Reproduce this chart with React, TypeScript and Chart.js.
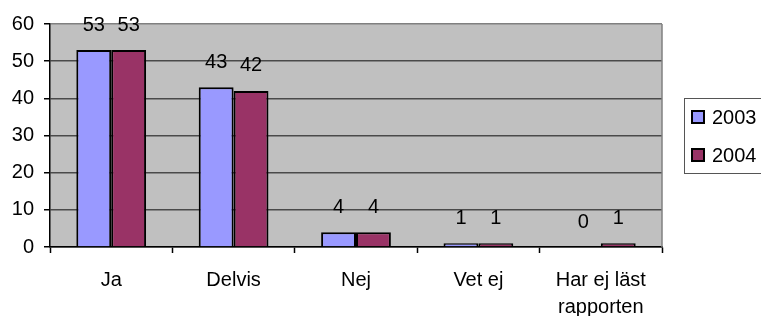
import React, { useEffect, useRef } from "react";
import { Chart, registerables } from "chart.js";

Chart.register(...registerables);

const categories: (string | string[])[] = ["Ja", "Delvis", "Nej", "Vet ej", ["Har ej läst", "rapporten"]];
const seriesNames = ["2003", "2004"];
const values2003 = [53, 43, 4, 1, 0];
const values2004 = [53, 42, 4, 1, 1];
const seriesColors = ["#9999FF", "#993366"];
const yMin = 0;
const yMax = 60;
const yStep = 10;

const FONT = '"Liberation Sans", Arial, sans-serif';

const bgPlugin = {
  id: "plotBg",
  beforeDraw(chart: any) {
    const { ctx, chartArea } = chart;
    ctx.save();
    ctx.fillStyle = "#C0C0C0";
    ctx.fillRect(chartArea.left, chartArea.top, chartArea.right - chartArea.left, chartArea.bottom - chartArea.top);
    ctx.restore();
  },
  afterDatasetsDraw(chart: any) {
    const { ctx, chartArea } = chart;
    ctx.save();
    ctx.strokeStyle = "#808080";
    ctx.lineWidth = 1.5;
    ctx.beginPath();
    ctx.moveTo(chartArea.right, chartArea.top);
    ctx.lineTo(chartArea.right, chartArea.bottom);
    ctx.stroke();
    ctx.restore();
  },
};

const valueLabelPlugin = {
  id: "valueLabels",
  afterDatasetsDraw(chart: any) {
    const { ctx } = chart;
    ctx.save();
    ctx.font = `20px ${FONT}`;
    ctx.fillStyle = "#000";
    ctx.textAlign = "center";
    ctx.textBaseline = "middle";
    chart.data.datasets.forEach((ds: any, i: number) => {
      const meta = chart.getDatasetMeta(i);
      meta.data.forEach((bar: any, j: number) => {
        ctx.fillText(String(ds.data[j]), bar.x, bar.y - 25);
      });
    });
    ctx.restore();
  },
};

const legendPlugin = {
  id: "boxLegend",
  afterDraw(chart: any) {
    const { ctx } = chart;
    ctx.save();
    ctx.strokeStyle = "#555";
    ctx.lineWidth = 1;
    ctx.strokeRect(684.5, 98.5, 100, 75);
    ctx.font = `20px ${FONT}`;
    ctx.textAlign = "left";
    ctx.textBaseline = "middle";
    chart.data.datasets.forEach((ds: any, i: number) => {
      const cy = 117 + i * 38;
      ctx.fillStyle = ds.backgroundColor;
      ctx.fillRect(692, cy - 6, 12, 12);
      ctx.strokeStyle = "#000";
      ctx.lineWidth = 2;
      ctx.strokeRect(692, cy - 6, 12, 12);
      ctx.fillStyle = "#000";
      ctx.fillText(ds.label, 712, cy + 1);
    });
    ctx.restore();
  },
};

export default function App() {
  const ref = useRef<HTMLCanvasElement>(null);
  useEffect(() => {
    if (!ref.current) return;
    const chart = new Chart(ref.current, {
      type: "bar",
      data: {
        labels: categories,
        datasets: [
          {
            label: seriesNames[0],
            data: values2003,
            backgroundColor: seriesColors[0],
            borderColor: "#000",
            borderWidth: 2,
            categoryPercentage: 0.57,
            barPercentage: 1,
          },
          {
            label: seriesNames[1],
            data: values2004,
            backgroundColor: seriesColors[1],
            borderColor: "#000",
            borderWidth: 2,
            categoryPercentage: 0.57,
            barPercentage: 1,
          },
        ],
      },
      options: {
        responsive: false,
        animation: false,
        layout: { padding: { left: 0, top: 24, right: 99, bottom: 0 } },
        plugins: { legend: { display: false }, tooltip: { enabled: false } },
        scales: {
          x: {
            offset: true,
            grid: {
              offset: true,
              drawOnChartArea: false,
              drawTicks: true,
              tickLength: 6,
              tickColor: "#000",
              tickWidth: 1.5,
            },
            border: { color: "#000", width: 1.5 },
            ticks: {
              color: "#000",
              font: { family: FONT, size: 20, lineHeight: 1.35 },
              padding: 14,
              maxRotation: 0,
              autoSkip: false,
            },
            afterFit(scale: any) {
              scale.height = 69;
            },
          },
          y: {
            min: yMin,
            max: yMax,
            ticks: {
              stepSize: yStep,
              color: "#000",
              font: { family: FONT, size: 20 },
              padding: 10,
            },
            grid: {
              color: (c: any) => (c.tick && c.tick.value === yMax ? "#808080" : "#4a4a4a"),
              lineWidth: 1.5,
              tickLength: 6,
              tickColor: "#000",
              tickWidth: 1.5,
            },
            border: { color: "#000", width: 1.5 },
            afterFit(scale: any) {
              scale.width = 50;
            },
          },
        },
      },
      plugins: [bgPlugin, valueLabelPlugin, legendPlugin],
    });
    return () => chart.destroy();
  }, []);
  return (
    <div style={{ position: "absolute", left: 0, top: 0, width: 761, height: 316, background: "#fff" }}>
      <canvas ref={ref} width={761} height={316} style={{ display: "block" }} />
    </div>
  );
}
